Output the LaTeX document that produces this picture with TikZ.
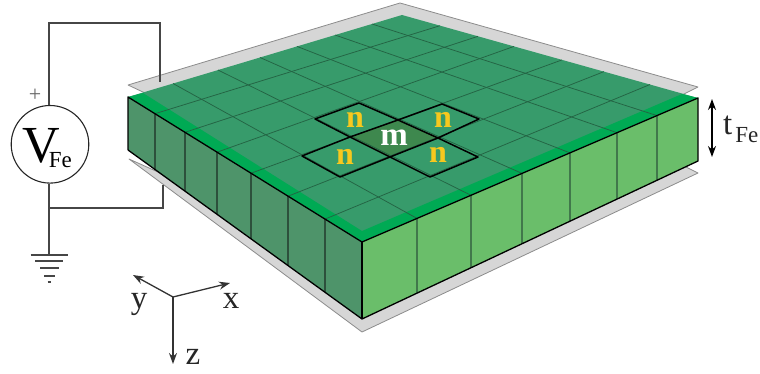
\documentclass[tikz,border=0pt]{standalone}
\usepackage{fontspec}
\setmainfont{Liberation Serif}
\usetikzlibrary{arrows.meta}
\definecolor{faceG}{RGB}{55,155,107}
\definecolor{bandG}{RGB}{0,170,84}
\definecolor{leftG}{RGB}{78,148,106}
\definecolor{rightG}{RGB}{106,190,106}
\definecolor{mG}{RGB}{62,136,78}
\definecolor{gridG}{RGB}{36,100,68}
\definecolor{dividerL}{RGB}{45,80,60}
\definecolor{dividerR}{RGB}{65,120,75}
\definecolor{plateG}{RGB}{214,214,214}
\definecolor{wireG}{RGB}{70,70,70}
\definecolor{nY}{RGB}{247,200,30}
\tikzset{
  plate/.style={fill=plateG,draw=gray!90,line width=.8pt,line join=round},
  wire/.style={draw=wireG,line width=1.3pt},
  gridline/.style={draw=gridG,line width=.75pt},
  dividerl/.style={draw=dividerL,line width=1.2pt},
  dividerr/.style={draw=dividerR,line width=1.3pt},
  edge/.style={draw=black,line width=1.3pt,line join=round},
  cell/.style={draw=black,line width=1.5pt,line join=round},
  axis/.style={draw=black!80,line width=1.3pt,-{Stealth[length=11pt,width=8pt]}},
  lab/.style={inner sep=0pt,text=black!85,font=\fontsize{33}{33}\selectfont},
  nlab/.style={inner sep=0pt,text=nY,font=\fontsize{32}{32}\selectfont\bfseries},
  mlab/.style={inner sep=0pt,text=white,font=\fontsize{33}{33}\selectfont\bfseries}
}
\begin{document}
\begin{tikzpicture}[x=1pt,y=-1pt]
\useasboundingbox (0,0) rectangle (760,374);
% plates
\draw[plate] (128,85) -- (400,3) -- (698,87) -- (682,95) -- (362,240) -- (145,93) -- cycle;
\draw[plate] (129,159) -- (362,332) -- (698,173) -- (685.6,166.8) -- (362,290) -- (158,172) -- cycle;
% box sides
\fill[leftG] (128,97) -- (362,242) -- (362,319) -- (128,150) -- cycle;
\fill[rightG] (362,242) -- (698,98) -- (698,161) -- (362,319) -- cycle;
\foreach \xa/\ya/\yb in {155/113.7/169.5,185/132.3/191,217/152.2/214,251/173.2/239,288/196.2/265.6,325/219.1/292}
  \draw[dividerl] (\xa,\ya) -- (\xa,\yb);
\foreach \xa/\ya/\yb in {417/218.4/293,471/195.3/268,522/173.4/244,570/152.9/221,617/132.7/199,657/115.6/180}
  \draw[dividerr] (\xa,\ya) -- (\xa,\yb);
% top face
\fill[faceG] (128,97) -- (402,15) -- (698,98) -- (362,242) -- cycle;
\fill[bandG] (128,97) -- (362,242) -- (698,98) -- (682,94) -- (362,231) -- (143,93) -- cycle;
\fill[mG] (350,137) -- (398,120) -- (438,138) -- (390,157) -- cycle;
% grid
\foreach \xa/\ya/\xb/\yb in {173/83.5/417/218.4,218/70/471/195.3,260/57.5/522/173.4,297/46.4/570/152.9,335/35/617/132.7,372/24/657/115.6}
  \draw[gridline] (\xa,\ya) -- (\xb,\yb);
\foreach \xa/\ya/\xb/\yb in {155/113.7/440/25.7,185/132.3/478/36.3,217/152.2/514/46.4,251/173.2/562/59.9,288/196.2/604/71.6,325/219.1/650/84.5}
  \draw[gridline] (\xa,\ya) -- (\xb,\yb);
% outline of box
\draw[edge] (128,150) -- (128,97) -- (362,242) -- (698,98) -- (698,161) -- (362,319) -- (128,150);
\draw[edge] (362,242) -- (362,319);
% highlighted cells
\draw[cell] (315,119) -- (359,103) -- (398,120) -- (350,137) -- cycle;
\draw[cell] (398,120) -- (442,104) -- (479,119) -- (438,138) -- cycle;
\draw[cell] (302,156) -- (350,137) -- (390,157) -- (340,177) -- cycle;
\draw[cell] (390,157) -- (438,138) -- (478,157) -- (430,177) -- cycle;
\node[nlab] (n1) at (355,120) {n};
\node[nlab] (n2) at (443,120) {n};
\node[nlab] (n3) at (345,157) {n};
\node[nlab] (n4) at (438,155) {n};
\node[mlab] (m1) at (394,138) {m};
% circuit
\node[circle,draw=black!85,line width=1.1pt,minimum size=77.6pt,inner sep=0pt,fill=white] (vs) at (50,144.3) {};
\node[inner sep=0pt,anchor=base west,text=black,font=\fontsize{52}{52}\selectfont] (vlab) at (22,163) {V\hspace{-11pt}{\fontsize{23}{23}\selectfont\raisebox{-5pt}{Fe}}};
\node[inner sep=0pt,text=black!60,font=\fontsize{22}{22}\selectfont] (plus) at (35,95) {+};
\coordinate (tl) at (49,23);
\coordinate (tr) at (160,23);
\coordinate (te) at (160,82);
\coordinate (j) at (49,208);
\coordinate (br) at (163,208);
\coordinate (be) at (163,185);
\coordinate (g) at (49,255);
\draw[wire] (vs.north -| tl) -- (tl) -- (tr) -- (te);
\draw[wire] (vs.south -| j) -- (j) -- (br) -- (be);
\draw[wire] (j) -- (g);
\draw[wire] (30.5,255) -- (67.5,255);
\draw[wire] (35,261) -- (63,261);
\draw[wire] (40,268) -- (59,268);
\draw[wire] (44,276) -- (55,276);
\draw[wire] (47.5,282) -- (50.5,282);
% axes
\coordinate (o) at (173,297);
\coordinate (ay) at (133,275);
\coordinate (ax) at (230,283);
\coordinate (az) at (173,364);
\draw[axis] (o) -- (ay);
\draw[axis] (o) -- (ax);
\draw[axis] (o) -- (az);
\node[lab] (ylab) at (139,304) {y};
\node[lab] (xlab) at (231,301) {x};
\node[lab] (zlab) at (193,357) {z};
% thickness
\coordinate (t1) at (712,99);
\coordinate (t2) at (712,157);
\draw[black,line width=1.3pt,{Stealth[length=11pt,width=8pt]}-{Stealth[length=11pt,width=8pt]}] (t1) -- (t2);
\node[inner sep=0pt,anchor=base west,text=black!85,font=\fontsize{33}{33}\selectfont] (tlab) at (723,135) {t\hspace{3pt}{\fontsize{23}{23}\selectfont\raisebox{-8pt}{Fe}}};
\end{tikzpicture}
\end{document}
